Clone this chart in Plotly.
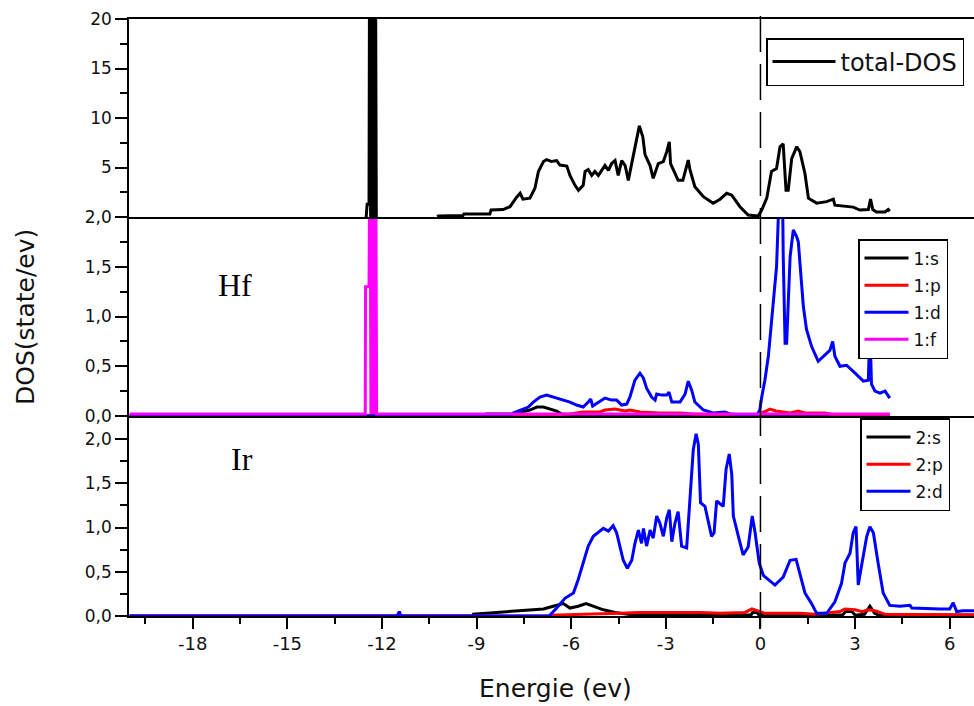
import plotly.graph_objects as go

# ---------------- total DOS (top panel) ----------------
# None breaks the trace where the DOS is flat zero on the axis line
tot_e = [-12.53, -12.50, -12.47, -12.41, -12.39, -12.36, -12.33, -12.30, -12.27, -12.24,
         -12.21, -12.18, -11.00, -10.25, -10.22, -9.43, -9.40, -8.58, -8.54, -8.16, -7.94,
         -7.73, -7.62, -7.53, -7.31, -7.15, -7.04, -6.88, -6.78, -6.62, -6.46,
         -6.36, -6.14, -6.04, -5.88, -5.77, -5.62, -5.56, -5.46, -5.35, -5.25,
         -5.14, -5.03, -4.93, -4.82, -4.72, -4.61, -4.51, -4.40, -4.29, -4.19,
         -4.08, -3.98, -3.84, -3.73, -3.66, -3.50, -3.40, -3.24, -3.08, -2.97,
         -2.89, -2.85, -2.61, -2.46, -2.29, -2.23, -2.08, -1.81, -1.50, -1.28,
         -1.07, -0.91, -0.65, -0.39, -0.07, 0.04, 0.20, 0.35, 0.51, 0.62,
         0.72, 0.81, 0.88, 0.99, 1.15, 1.25, 1.41, 1.52, 1.78, 2.10,
         2.31, 2.36, 2.94, 3.15, 3.42, 3.49, 3.56, 3.68, 3.95, 4.05, 4.10]
tot_dos = [0.0, 0.0, 1.3, 1.3, 32.0, 0.0, 32.0, 0.0, 32.0, 0.0,
           32.0, 0.0, None, 0.05, 0.1, 0.15, 0.3, 0.3, 0.7, 0.75, 1.04,
           2.0, 2.4, 1.8, 1.9, 2.9, 4.6, 5.6, 5.8, 5.6, 5.7,
           5.25, 5.15, 4.2, 3.2, 2.7, 3.2, 4.6, 4.8, 4.2, 4.6,
           4.2, 4.7, 5.2, 4.7, 5.4, 5.7, 4.2, 5.7, 5.2, 3.7,
           5.4, 6.8, 9.2, 8.1, 6.3, 5.2, 3.9, 5.4, 5.6, 6.6,
           7.6, 5.4, 3.7, 3.7, 5.75, 4.7, 3.06, 2.05, 1.38, 1.8,
           2.4, 2.2, 1.04, 0.2, 0.1, 0.7, 1.9, 4.6, 4.9, 7.1,
           7.4, 2.7, 2.7, 5.9, 7.1, 6.6, 4.4, 1.9, 1.4, 1.55,
           1.8, 1.2, 1.0, 0.7, 0.75, 1.8, 0.75, 0.5, 0.5, 0.75, 0.6]

# ---------------- Hf partial DOS (middle panel) ----------------
hf_s_e = [-20.0, -8.70, -8.68, -7.84, -7.31, -7.09, -6.88, -6.67, -6.46, -6.30, -6.10, 4.10]
hf_s = [0.0, 0.0, 0.02, 0.02, 0.06, 0.09, 0.09, 0.07, 0.05, 0.02, 0.01, 0.01]

hf_p_e = [-20.0, -7.21, -6.04, -5.63, -5.09, -4.93, -4.61, -4.30, -4.14, -3.82,
          -3.19, -2.55, -2.14, -1.28, -0.17, 0.11, 0.30, 0.49, 0.94, 1.19,
          1.41, 2.04, 2.36, 4.10]
hf_p = [0.0, 0.01, 0.02, 0.04, 0.04, 0.06, 0.07, 0.05, 0.06, 0.04,
        0.03, 0.03, 0.02, 0.01, 0.01, 0.04, 0.07, 0.05, 0.03, 0.05,
        0.03, 0.03, 0.01, 0.005]

hf_d_e = [-20.0, -7.90, -7.84, -7.62, -7.36, -7.20, -6.99, -6.78, -6.57, -6.30,
          -6.04, -5.83, -5.62, -5.46, -5.38, -5.32, -5.14, -4.93, -4.72, -4.56,
          -4.40, -4.24, -4.14, -3.98, -3.82, -3.71, -3.61, -3.45, -3.34, -3.29,
          -3.13, -2.97, -2.90, -2.81, -2.55, -2.39, -2.29, -2.18, -2.08, -1.81,
          -1.50, -1.13, -0.97, -0.55, -0.11, -0.02, 0.04, 0.14, 0.25, 0.35,
          0.41, 0.51, 0.60, 0.70, 0.72, 0.78, 0.83, 0.88, 0.94, 1.04,
          1.15, 1.20, 1.25, 1.36, 1.46, 1.62, 1.83, 1.99, 2.20, 2.29,
          2.36, 2.52, 2.73, 3.00, 3.26, 3.42, 3.47, 3.52, 3.63, 3.79,
          3.95, 4.10]
hf_d = [0.0, 0.0, 0.03, 0.06, 0.09, 0.14, 0.19, 0.21, 0.19, 0.17,
        0.14, 0.11, 0.09, 0.14, 0.17, 0.10, 0.14, 0.18, 0.16, 0.16,
        0.11, 0.12, 0.19, 0.36, 0.43, 0.38, 0.28, 0.19, 0.16, 0.22,
        0.21, 0.21, 0.24, 0.14, 0.14, 0.22, 0.35, 0.26, 0.14, 0.06,
        0.03, 0.04, 0.02, 0.01, 0.01, 0.06, 0.19, 0.36, 0.60, 0.97,
        1.17, 1.50, 2.30, 2.30, 1.64, 0.73, 0.73, 1.23, 1.60, 1.87,
        1.80, 1.75, 1.54, 1.10, 0.87, 0.70, 0.55, 0.60, 0.66, 0.75,
        0.60, 0.50, 0.51, 0.43, 0.35, 0.36, 0.90, 0.32, 0.25, 0.23,
        0.25, 0.18]

hf_f_e = [-20.0, -12.53, -12.52, -12.41, -12.38, -12.35, -12.32, -12.29, -12.26, -12.23,
          -12.20, -12.17, 4.10]
hf_f = [0.02, 0.02, 1.30, 1.30, 3.0, 0.02, 3.0, 0.02, 3.0, 0.02,
        3.0, 0.02, 0.02]

# ---------------- Ir partial DOS (bottom panel) ----------------
ir_s_e = [-20.0, -9.12, -9.10, -7.94, -6.88, -6.57, -6.25, -6.04, -5.78, -5.53,
          -5.30, -4.98, -4.61, -4.29, -4.00, -0.30, -0.25, -0.10, -0.05, 2.60,
          2.70, 2.90, 3.00, 3.30, 3.47, 3.62, 3.75, 6.77]
ir_s = [0.0, 0.0, 0.02, 0.05, 0.08, 0.11, 0.14, 0.09, 0.11, 0.14,
        0.11, 0.07, 0.04, 0.02, 0.01, 0.01, 0.04, 0.04, 0.01, 0.01,
        0.05, 0.05, 0.01, 0.02, 0.11, 0.03, 0.01, 0.01]

ir_p_e = [-20.0, -6.70, -6.64, -5.09, -4.46, -3.82, -3.19, -2.55, -1.92, -1.28,
          -0.49, -0.27, -0.08, 0.14, 1.25, 1.73, 2.52, 2.68, 3.00, 3.22,
          3.41, 3.63, 3.94, 6.77]
ir_p = [0.0, 0.0, 0.01, 0.02, 0.03, 0.04, 0.04, 0.04, 0.04, 0.03,
        0.04, 0.08, 0.06, 0.03, 0.03, 0.02, 0.05, 0.08, 0.07, 0.05,
        0.07, 0.06, 0.02, 0.01]

ir_d_e = [-20.0, -11.52, -11.45, -11.40, -6.70, -6.67, -6.46, -6.20, -5.93, -5.78,
          -5.62, -5.46, -5.30, -5.14, -4.98, -4.82, -4.67, -4.56, -4.45, -4.35,
          -4.22, -4.08, -3.98, -3.87, -3.77, -3.71, -3.61, -3.50, -3.40, -3.29,
          -3.19, -3.08, -2.97, -2.89, -2.81, -2.71, -2.61, -2.50, -2.34, -2.23,
          -2.13, -2.04, -1.97, -1.90, -1.76, -1.55, -1.47, -1.39, -1.18, -1.09,
          -0.99, -0.91, -0.86, -0.70, -0.55, -0.39, -0.31, -0.26, -0.17, -0.12,
          -0.04, 0.09, 0.46, 0.72, 0.94, 1.13, 1.25, 1.41, 1.62, 1.78,
          2.10, 2.36, 2.57, 2.68, 2.84, 2.94, 3.03, 3.10, 3.21, 3.37,
          3.47, 3.58, 3.73, 3.89, 4.10, 4.42, 4.74, 4.80, 5.69, 6.00,
          6.11, 6.22, 6.42, 6.77]
ir_d = [0.0, 0.0, 0.05, 0.0, 0.0, 0.01, 0.09, 0.20, 0.26, 0.41,
        0.60, 0.79, 0.90, 0.94, 0.99, 0.96, 1.02, 0.94, 0.79, 0.63,
        0.54, 0.63, 0.82, 0.97, 0.82, 0.99, 0.79, 0.97, 0.88, 1.13,
        1.05, 0.90, 1.11, 1.20, 0.84, 1.05, 1.18, 0.79, 0.77, 1.32,
        1.88, 2.06, 1.94, 1.28, 1.24, 0.90, 0.94, 1.30, 1.24, 1.66,
        1.83, 1.60, 1.13, 0.90, 0.69, 0.78, 1.03, 1.13, 0.94, 0.79,
        0.60, 0.46, 0.35, 0.44, 0.63, 0.64, 0.48, 0.26, 0.14, 0.03,
        0.03, 0.16, 0.37, 0.60, 0.71, 0.94, 1.01, 0.35, 0.58, 0.90,
        1.01, 0.94, 0.60, 0.26, 0.12, 0.11, 0.12, 0.09, 0.08, 0.08,
        0.15, 0.05, 0.06, 0.06]

# ---------------- axis ticks ----------------
x_ticks = [-18, -15, -12, -9, -6, -3, 0, 3, 6]
x_ticktext = ["-18", "-15", "-12", "-9", "-6", "-3", "0", "3", "6"]
x_minor = [-19.5, -16.5, -13.5, -10.5, -7.5, -4.5, -1.5, 1.5, 4.5]
top_ticks = [5, 10, 15, 20]
top_ticktext = ["5", "10", "15", "20"]
top_minor = [2.5, 7.5, 12.5, 17.5]
pdos_ticks = [0.0, 0.5, 1.0, 1.5, 2.0]
pdos_ticktext = ["0,0", "0,5", "1,0", "1,5", "2,0"]
pdos_minor = [0.25, 0.75, 1.25, 1.75]

LW = 3
fig = go.Figure()

# top panel
fig.add_trace(go.Scatter(x=tot_e, y=tot_dos, mode="lines", name="total-DOS",
                         connectgaps=False,
                         line=dict(color="black", width=LW), xaxis="x3", yaxis="y3",
                         legend="legend"))

# middle panel (Hf)
for e, v, nm, col in [(hf_s_e, hf_s, "1:s", "black"), (hf_p_e, hf_p, "1:p", "red"),
                      (hf_d_e, hf_d, "1:d", "blue"), (hf_f_e, hf_f, "1:f", "magenta")]:
    fig.add_trace(go.Scatter(x=e, y=v, mode="lines", name=nm, legendgroup=nm,
                             line=dict(color=col, width=LW), xaxis="x2", yaxis="y2",
                             legend="legend2"))

# bottom panel (Ir)
for e, v, nm, col in [(ir_s_e, ir_s, "2:s", "black"), (ir_p_e, ir_p, "2:p", "red"),
                      (ir_d_e, ir_d, "2:d", "blue")]:
    fig.add_trace(go.Scatter(x=e, y=v, mode="lines", name=nm, legendgroup=nm,
                             line=dict(color=col, width=LW), xaxis="x", yaxis="y",
                             legend="legend3"))

XR = [-20.02, 6.77]
D1 = 200 / 597
D2 = 399 / 597

# each panel draws only its lower frame line; the top panel also closes the frame above
base_x = dict(range=XR, showline=True, linecolor="black", linewidth=1.5,
              showgrid=False, zeroline=False, layer="below traces")
fig.update_layout(
    xaxis=dict(**base_x, anchor="y", mirror=False, ticks="outside", ticklen=11,
               tickwidth=1.5, tickcolor="black", tickvals=x_ticks, ticktext=x_ticktext,
               tickfont=dict(size=18, color="#111"),
               minor=dict(tickvals=x_minor, ticks="outside", ticklen=6, tickwidth=1.5,
                          tickcolor="black")),
    xaxis2=dict(**base_x, anchor="y2", matches="x", mirror=False,
                showticklabels=False, ticks=""),
    xaxis3=dict(**base_x, anchor="y3", matches="x", mirror=True,
                showticklabels=False, ticks=""),
)

base_y = dict(showline=True, linecolor="black", linewidth=1.5, mirror=False,
              showgrid=False, zeroline=False, ticks="outside", ticklen=12,
              tickwidth=1.5, tickcolor="black", tickfont=dict(size=17, color="#111"),
              layer="below traces")
fig.update_layout(
    yaxis=dict(**base_y, domain=[0, D1], range=[0, 2.26], tickvals=pdos_ticks,
               ticktext=pdos_ticktext,
               minor=dict(tickvals=pdos_minor, ticks="outside", ticklen=7,
                          tickwidth=1.5, tickcolor="black")),
    yaxis2=dict(**base_y, domain=[D1, D2], range=[0, 2.0], tickvals=pdos_ticks,
                ticktext=pdos_ticktext,
                minor=dict(tickvals=pdos_minor, ticks="outside", ticklen=7,
                           tickwidth=1.5, tickcolor="black")),
    yaxis3=dict(**base_y, domain=[D2, 1], range=[0, 20], tickvals=top_ticks,
                ticktext=top_ticktext,
                minor=dict(tickvals=top_minor, ticks="outside", ticklen=7,
                           tickwidth=1.5, tickcolor="black")),
)

leg_common = dict(xanchor="left", yanchor="top", bgcolor="white", bordercolor="black",
                  borderwidth=1.5, font=dict(color="#111"))
fig.update_layout(
    legend=dict(**leg_common, x=(766 - 129) / 845, y=(616 - 38) / 597, itemwidth=63),
    legend2=dict(**leg_common, x=(858 - 129) / 845, y=(616 - 239) / 597, itemwidth=44,
                 tracegroupgap=2),
    legend3=dict(**leg_common, x=(860 - 129) / 845, y=(616 - 418) / 597, itemwidth=44,
                 tracegroupgap=2),
)
fig.update_layout(legend_font_size=24, legend2_font_size=17, legend3_font_size=17)

# Fermi level marker across all three panels
fig.add_shape(type="line", xref="x", yref="paper", x0=0, x1=0,
              y0=(616 - 628) / 597, y1=(616 - 12) / 597,
              line=dict(color="black", width=1.5, dash="36px,12px"))

fig.add_annotation(text="Hf", xref="paper", yref="paper", x=(235 - 129) / 845,
                   y=(616 - 285) / 597, showarrow=False, xanchor="center", yanchor="middle",
                   font=dict(family="Liberation Serif", size=32, color="black"))
fig.add_annotation(text="Ir", xref="paper", yref="paper", x=(242 - 129) / 845,
                   y=(616 - 459) / 597, showarrow=False, xanchor="center", yanchor="middle",
                   font=dict(family="Liberation Serif", size=32, color="black"))
fig.add_annotation(text="DOS(state/ev)", xref="paper", yref="paper", x=(25 - 129) / 845,
                   y=(616 - 317) / 597, showarrow=False, textangle=-90,
                   xanchor="center", yanchor="middle", font=dict(size=25, color="#111"))
fig.add_annotation(text="Energie (ev)", xref="paper", yref="paper", x=(555 - 129) / 845,
                   y=(616 - 689) / 597, showarrow=False, xanchor="center", yanchor="middle",
                   font=dict(size=25, color="#111"))

fig.update_layout(
    width=974, height=706,
    margin=dict(l=129, r=0, t=19, b=90),
    paper_bgcolor="white", plot_bgcolor="white",
    font=dict(family="DejaVu Sans", color="#111"),
    showlegend=True,
)

fig.write_html("out.html")
